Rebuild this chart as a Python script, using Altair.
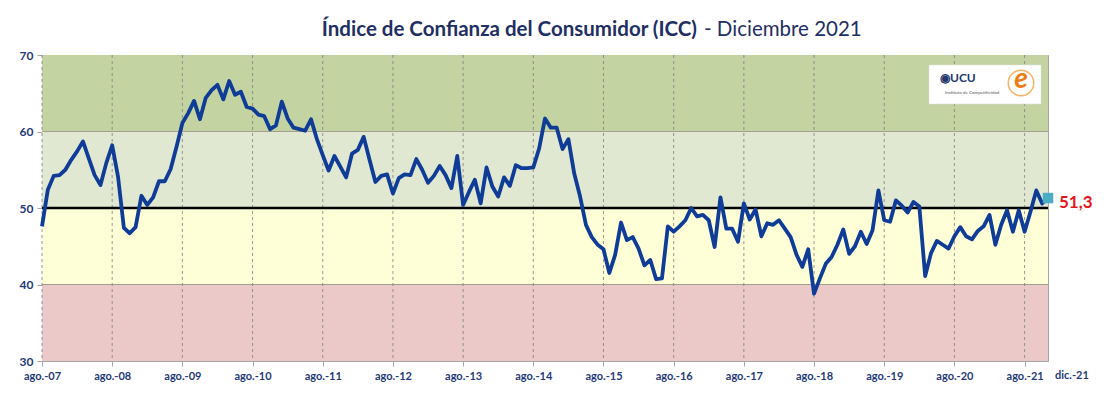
import altair as alt
import pandas as pd

# ---- data (monthly ICC, ago-2007 .. dic-2021) ----
icc_2007 = [47.6, 52.4, 54.2, 54.3, 55.0]
icc_2008 = [56.3, 57.4, 58.7, 56.5, 54.3, 53.0, 55.9, 58.2, 54.1, 47.4, 46.7, 47.5]
icc_2009 = [51.6, 50.4, 51.4, 53.5, 53.5, 55.1, 58.0, 61.1, 62.4, 64.0, 61.6, 64.4]
icc_2010 = [65.4, 66.1, 64.2, 66.6, 64.8, 65.2, 63.2, 63.0, 62.2, 62.0, 60.3, 60.8]
icc_2011 = [63.9, 61.7, 60.5, 60.3, 60.1, 61.6, 59.0, 56.9, 54.9, 56.8, 55.4, 54.0]
icc_2012 = [57.1, 57.6, 59.3, 56.3, 53.4, 54.2, 54.4, 51.9, 53.9, 54.4, 54.3, 56.4]
icc_2013 = [55.0, 53.3, 54.2, 55.5, 54.3, 52.6, 56.8, 50.4, 52.1, 53.7, 50.6, 55.3]
icc_2014 = [52.8, 51.5, 54.0, 52.9, 55.6, 55.2, 55.2, 55.3, 57.8, 61.7, 60.5, 60.5]
icc_2015 = [57.7, 59.0, 54.5, 51.5, 47.8, 46.2, 45.2, 44.6, 41.5, 43.9, 48.1, 45.8]
icc_2016 = [46.2, 44.7, 42.5, 43.2, 40.7, 40.8, 47.6, 46.9, 47.6, 48.4, 50.0, 48.9]
icc_2017 = [49.1, 48.4, 44.9, 51.4, 47.3, 47.3, 45.6, 50.6, 48.5, 49.8, 46.3, 48.0]
icc_2018 = [47.8, 48.4, 47.3, 46.2, 43.9, 42.3, 44.6, 38.8, 40.8, 42.7, 43.6, 45.2]
icc_2019 = [47.2, 44.0, 45.0, 46.9, 45.3, 47.1, 52.3, 48.4, 48.2, 51.0, 50.3, 49.4]
icc_2020 = [50.8, 50.2, 41.1, 44.1, 45.7, 45.2, 44.7, 46.3, 47.5, 46.3, 45.9, 47.0]
icc_2021 = [47.6, 49.1, 45.2, 47.8, 49.7, 46.9, 49.7, 46.9, 49.5, 52.3, 50.6, 51.3]

x_labels = ["ago.-07", "ago.-08", "ago.-09", "ago.-10", "ago.-11", "ago.-12", "ago.-13",
            "ago.-14", "ago.-15", "ago.-16", "ago.-17", "ago.-18", "ago.-19", "ago.-20",
            "ago.-21"]
last_label = "dic.-21"
y_ticks = [30, 40, 50, 60, 70]

band_lo = [60, 50, 40, 30]
band_hi = [70, 60, 50, 40]
band_col = ["#C3D3A1", "#E1E8D1", "#FFFFD7", "#EAC9C8"]

title_bold = "Índice de Confianza del Consumidor (ICC)"
title_rest = "- Diciembre 2021"

values = (icc_2007 + icc_2008 + icc_2009 + icc_2010 + icc_2011 + icc_2012 + icc_2013 +
          icc_2014 + icc_2015 + icc_2016 + icc_2017 + icc_2018 + icc_2019 + icc_2020 + icc_2021)
n = len(values)
df = pd.DataFrame({"m": list(range(n)), "icc": values})
last = df.iloc[[-1]].copy()
last["txt"] = f"{values[-1]:.1f}".replace(".", ",")

tick_pos = [12 * k for k in range(len(x_labels))]
grid_df = pd.DataFrame({"m": tick_pos})
bands = pd.DataFrame({"lo": band_lo, "hi": band_hi, "c": band_col})

W, H = 1006, 306
NAVY = "#1F3A78"
FONT = "Lato"

label_expr = ("[" + ",".join(f"'{l}'" for l in x_labels) + "][indexof(["
              + ",".join(str(p) for p in tick_pos) + "], datum.value)]")

xs = alt.Scale(domain=[0, n - 1], nice=False, zero=False)
ys = alt.Scale(domain=[30, 70], nice=False, zero=False)
x_axis = alt.Axis(values=tick_pos, labelExpr=label_expr, grid=False, title=None,
                  domainColor="#A6A6A6", tickColor="#A6A6A6", tickSize=5,
                  labelFont=FONT, labelFontWeight="bold", labelColor=NAVY,
                  labelFontSize=11, labelPadding=4, labelOverlap=False,
                  labelFlush=False, labelBound=False)
y_axis = alt.Axis(values=y_ticks, grid=False, title=None,
                  domainColor="#A6A6A6", tickColor="#A6A6A6", tickSize=5,
                  labelFont=FONT, labelFontWeight="bold", labelColor=NAVY,
                  labelFontSize=12, labelPadding=4, labelFlush=False)

X = lambda f: alt.X(f, scale=xs, axis=x_axis)
Y = lambda f: alt.Y(f, scale=ys, axis=y_axis)

band_layer = alt.Chart(bands).mark_rect().encode(
    y=Y("lo:Q"), y2="hi:Q", color=alt.Color("c:N", scale=None))

band_edges = alt.Chart(pd.DataFrame({"v": [40, 60]})).mark_rule(
    color="#A39E8E", strokeWidth=1).encode(y=Y("v:Q"))

grid_layer = alt.Chart(grid_df).mark_rule(
    color="#7F7F7F", strokeWidth=0.8, strokeDash=[3, 3]).encode(x=X("m:Q"))

fifty = alt.Chart(pd.DataFrame({"v": [50]})).mark_rule(
    color="#000000", strokeWidth=2.5).encode(y=Y("v:Q"))

line = alt.Chart(df).mark_line(color="#0E3C96", strokeWidth=3.8,
                               strokeJoin="round").encode(x=X("m:Q"), y=Y("icc:Q"))

marker = alt.Chart(last).mark_square(size=110, color="#4BACC6", opacity=1).encode(
    x=X("m:Q"), y=Y("icc:Q"))

val_text = alt.Chart(last).mark_text(
    align="left", baseline="middle", dx=11, dy=5, font=FONT, fontSize=17,
    fontWeight="bold", color="#E8141B").encode(x=X("m:Q"), y=Y("icc:Q"), text="txt:N")

dic_text = alt.Chart(pd.DataFrame({"t": [last_label]})).mark_text(
    align="left", baseline="middle", font=FONT, fontSize=11, fontWeight="bold",
    color=NAVY).encode(x=alt.value(W + 7), y=alt.value(H + 15), text="t:N")

t1 = alt.Chart(pd.DataFrame({"t": [title_bold]})).mark_text(
    align="right", baseline="middle", font=FONT, fontSize=20.5, fontWeight="bold",
    color="#1F2F63").encode(x=alt.value(697 - 42), y=alt.value(30 - 55), text="t:N")
t2 = alt.Chart(pd.DataFrame({"t": [title_rest]})).mark_text(
    align="left", baseline="middle", font=FONT, fontSize=20.5,
    color="#1F2F63").encode(x=alt.value(704 - 42), y=alt.value(30 - 55), text="t:N")

# logo box (approximation with text)
logo_box = alt.Chart(pd.DataFrame({"a": [0]})).mark_rect(
    fill="white", stroke="#DDDDDD", strokeWidth=0.5).encode(
    x=alt.value(929 - 42), x2=alt.value(1041 - 42),
    y=alt.value(65 - 55), y2=alt.value(104 - 55))
logo_ucu = alt.Chart(pd.DataFrame({"t": ["◉UCU"]})).mark_text(
    align="left", baseline="middle", font=FONT, fontSize=12, fontWeight="bold",
    color="#23386E").encode(x=alt.value(940 - 42), y=alt.value(78 - 55), text="t:N")
logo_sub = alt.Chart(pd.DataFrame({"t": ["Instituto de Competitividad"]})).mark_text(
    align="left", baseline="middle", font=FONT, fontSize=4.5,
    color="#555555").encode(x=alt.value(945 - 42), y=alt.value(93 - 55), text="t:N")
logo_ring = alt.Chart(pd.DataFrame({"a": [0]})).mark_point(
    shape="circle", size=650, filled=False, stroke="#F39322", strokeWidth=1.5).encode(
    x=alt.value(1021 - 42), y=alt.value(83 - 55))
logo_e = alt.Chart(pd.DataFrame({"t": ["e"]})).mark_text(
    align="center", baseline="middle", font=FONT, fontSize=28, fontStyle="italic",
    fontWeight="bold", color="#EE7D11").encode(
    x=alt.value(1021 - 42), y=alt.value(80 - 55), text="t:N")

chart = alt.layer(
    band_layer, band_edges, grid_layer, fifty, line, marker, val_text, dic_text,
    t1, t2, logo_box, logo_ring, logo_e, logo_ucu, logo_sub
).properties(
    width=W, height=H,
    autosize=alt.AutoSizeParams(type="none"),
    padding={"left": 34, "top": 47, "right": 48, "bottom": 25},
    background="white",
).configure_view(stroke="#A6A6A6", strokeWidth=1)

chart.save("out.html", embed_options={"renderer": "svg", "actions": False})
